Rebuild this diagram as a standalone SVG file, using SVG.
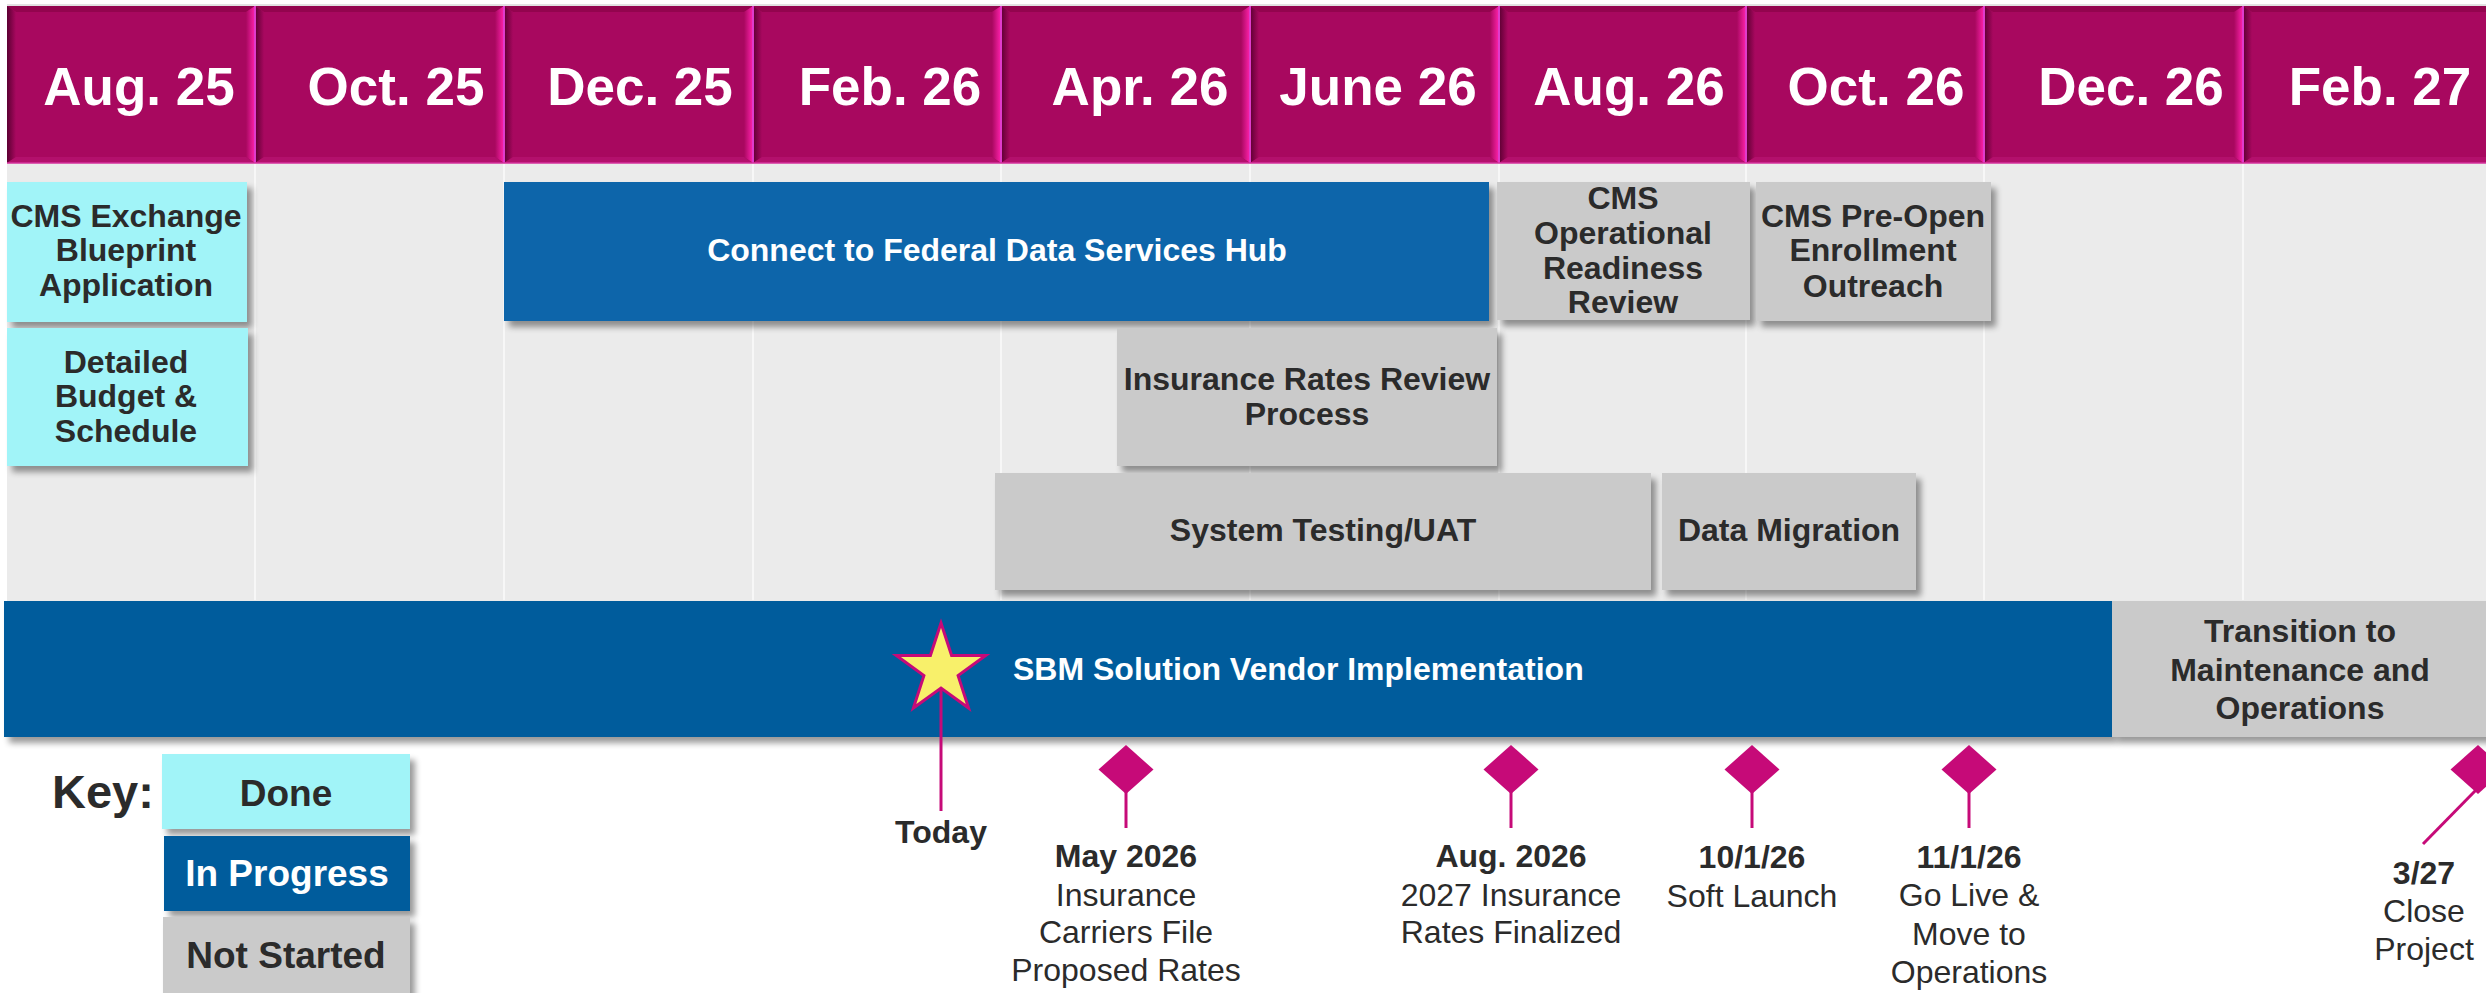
<svg xmlns="http://www.w3.org/2000/svg" width="2486" height="993" viewBox="0 0 2486 993">
  <defs>
    <style>
      .hdr { fill: #A8085F; }
      .bev-top { fill: #93044E; }
      .bev-bot { fill: #B3106C; }
      .bev-l { fill: url(#bevL); }
      .bev-r { fill: url(#bevR); }
      .hdr-txt { font-family: "Liberation Sans", Arial, sans-serif; font-weight: bold; font-size: 53px; fill: #FFFFFF; text-anchor: middle; }
      .sep { stroke: #E03BCB; stroke-width: 2; }
      .grid { stroke: #F7F7F7; stroke-width: 2; }
      .done { fill: #A1F4F8; }
      .prog { fill: #0B65AA; }
      .prog2 { fill: #065B9C; }
      .todo { fill: #CACACA; }
      .t { font-family: "Liberation Sans", Arial, sans-serif; font-weight: bold; font-size: 32px; fill: #2B2B2B; text-anchor: middle; }
      .tw { font-family: "Liberation Sans", Arial, sans-serif; font-weight: bold; font-size: 32px; fill: #FFFFFF; text-anchor: middle; }
      .key { font-family: "Liberation Sans", Arial, sans-serif; font-weight: bold; font-size: 37px; text-anchor: middle; }
      .ms { font-family: "Liberation Sans", Arial, sans-serif; font-size: 32px; fill: #2B2B2B; text-anchor: middle; }
      .msb { font-weight: bold; }
      .mk { fill: #C60A78; }
      .mk-line { stroke: #C60A78; stroke-width: 3; fill: none; }
    </style>
    <linearGradient id="bevL" x1="0" y1="0" x2="1" y2="0">
      <stop offset="0" stop-color="#5C0032"/>
      <stop offset="1" stop-color="#A8085F"/>
    </linearGradient>
    <linearGradient id="bevR" x1="0" y1="0" x2="1" y2="0">
      <stop offset="0" stop-color="#A8085F"/>
      <stop offset="1" stop-color="#FF22AC"/>
    </linearGradient>
    <filter id="shadow" x="-5%" y="-10%" width="115%" height="135%">
      <feGaussianBlur in="SourceAlpha" stdDeviation="3"/>
      <feOffset dx="5" dy="6"/>
      <feComponentTransfer><feFuncA type="linear" slope="0.4"/></feComponentTransfer>
      <feMerge><feMergeNode/><feMergeNode in="SourceGraphic"/></feMerge>
    </filter>
  </defs>

  <rect x="0" y="0" width="2486" height="993" fill="#FFFFFF"/>

  <!-- timeline panel -->
  <g id="panel">
    <rect x="7" y="163" width="2479" height="438" fill="#EBEBEB"/>
    <line class="grid" x1="255" y1="164" x2="255" y2="600"/>
    <line class="grid" x1="504" y1="164" x2="504" y2="600"/>
    <line class="grid" x1="753" y1="164" x2="753" y2="600"/>
    <line class="grid" x1="1001" y1="164" x2="1001" y2="600"/>
    <line class="grid" x1="1250" y1="164" x2="1250" y2="600"/>
    <line class="grid" x1="1499" y1="164" x2="1499" y2="600"/>
    <line class="grid" x1="1746" y1="164" x2="1746" y2="600"/>
    <line class="grid" x1="1984" y1="164" x2="1984" y2="600"/>
    <line class="grid" x1="2243" y1="164" x2="2243" y2="600"/>
  </g>

  <!-- month header -->
  <g id="header">
    <line x1="7" y1="5" x2="2486" y2="5" stroke="#C4C4C4" stroke-width="1"/>
    <g id="hdr-aug25">
      <rect class="hdr" x="7" y="6" width="248" height="157"/>
      <polygon class="bev-top" points="7,6 255,6 246,12 16,12"/>
      <polygon class="bev-l" points="7,6 16,12 16,157 7,163"/>
      <polygon class="bev-r" points="255,6 255,163 246,157 246,12"/>
      <polygon class="bev-bot" points="7,163 16,157 246,157 255,163"/>
      <text class="hdr-txt" x="139" y="105">Aug. 25</text>
    </g>
    <g id="hdr-oct25">
      <rect class="hdr" x="255" y="6" width="249" height="157"/>
      <polygon class="bev-top" points="255,6 504,6 495,12 264,12"/>
      <polygon class="bev-l" points="255,6 264,12 264,157 255,163"/>
      <polygon class="bev-r" points="504,6 504,163 495,157 495,12"/>
      <polygon class="bev-bot" points="255,163 264,157 495,157 504,163"/>
      <text class="hdr-txt" x="396" y="105">Oct. 25</text>
    </g>
    <g id="hdr-dec25">
      <rect class="hdr" x="504" y="6" width="249" height="157"/>
      <polygon class="bev-top" points="504,6 753,6 744,12 513,12"/>
      <polygon class="bev-l" points="504,6 513,12 513,157 504,163"/>
      <polygon class="bev-r" points="753,6 753,163 744,157 744,12"/>
      <polygon class="bev-bot" points="504,163 513,157 744,157 753,163"/>
      <text class="hdr-txt" x="640" y="105">Dec. 25</text>
    </g>
    <g id="hdr-feb26">
      <rect class="hdr" x="753" y="6" width="248" height="157"/>
      <polygon class="bev-top" points="753,6 1001,6 992,12 762,12"/>
      <polygon class="bev-l" points="753,6 762,12 762,157 753,163"/>
      <polygon class="bev-r" points="1001,6 1001,163 992,157 992,12"/>
      <polygon class="bev-bot" points="753,163 762,157 992,157 1001,163"/>
      <text class="hdr-txt" x="890" y="105">Feb. 26</text>
    </g>
    <g id="hdr-apr26">
      <rect class="hdr" x="1001" y="6" width="249" height="157"/>
      <polygon class="bev-top" points="1001,6 1250,6 1241,12 1010,12"/>
      <polygon class="bev-l" points="1001,6 1010,12 1010,157 1001,163"/>
      <polygon class="bev-r" points="1250,6 1250,163 1241,157 1241,12"/>
      <polygon class="bev-bot" points="1001,163 1010,157 1241,157 1250,163"/>
      <text class="hdr-txt" x="1140" y="105">Apr. 26</text>
    </g>
    <g id="hdr-jun26">
      <rect class="hdr" x="1250" y="6" width="249" height="157"/>
      <polygon class="bev-top" points="1250,6 1499,6 1490,12 1259,12"/>
      <polygon class="bev-l" points="1250,6 1259,12 1259,157 1250,163"/>
      <polygon class="bev-r" points="1499,6 1499,163 1490,157 1490,12"/>
      <polygon class="bev-bot" points="1250,163 1259,157 1490,157 1499,163"/>
      <text class="hdr-txt" x="1378" y="105">June 26</text>
    </g>
    <g id="hdr-aug26">
      <rect class="hdr" x="1499" y="6" width="247" height="157"/>
      <polygon class="bev-top" points="1499,6 1746,6 1737,12 1508,12"/>
      <polygon class="bev-l" points="1499,6 1508,12 1508,157 1499,163"/>
      <polygon class="bev-r" points="1746,6 1746,163 1737,157 1737,12"/>
      <polygon class="bev-bot" points="1499,163 1508,157 1737,157 1746,163"/>
      <text class="hdr-txt" x="1629" y="105">Aug. 26</text>
    </g>
    <g id="hdr-oct26">
      <rect class="hdr" x="1746" y="6" width="238" height="157"/>
      <polygon class="bev-top" points="1746,6 1984,6 1975,12 1755,12"/>
      <polygon class="bev-l" points="1746,6 1755,12 1755,157 1746,163"/>
      <polygon class="bev-r" points="1984,6 1984,163 1975,157 1975,12"/>
      <polygon class="bev-bot" points="1746,163 1755,157 1975,157 1984,163"/>
      <text class="hdr-txt" x="1876" y="105">Oct. 26</text>
    </g>
    <g id="hdr-dec26">
      <rect class="hdr" x="1984" y="6" width="259" height="157"/>
      <polygon class="bev-top" points="1984,6 2243,6 2234,12 1993,12"/>
      <polygon class="bev-l" points="1984,6 1993,12 1993,157 1984,163"/>
      <polygon class="bev-r" points="2243,6 2243,163 2234,157 2234,12"/>
      <polygon class="bev-bot" points="1984,163 1993,157 2234,157 2243,163"/>
      <text class="hdr-txt" x="2131" y="105">Dec. 26</text>
    </g>
    <g id="hdr-feb27">
      <rect class="hdr" x="2243" y="6" width="260" height="157"/>
      <polygon class="bev-top" points="2243,6 2503,6 2494,12 2252,12"/>
      <polygon class="bev-l" points="2243,6 2252,12 2252,157 2243,163"/>
      <polygon class="bev-bot" points="2243,163 2252,157 2494,157 2503,163"/>
      <text class="hdr-txt" x="2380" y="105">Feb. 27</text>
    </g>
    <line class="sep" x1="255" y1="6" x2="255" y2="163"/>
    <line class="sep" x1="504" y1="6" x2="504" y2="163"/>
    <line class="sep" x1="753" y1="6" x2="753" y2="163"/>
    <line class="sep" x1="1001" y1="6" x2="1001" y2="163"/>
    <line class="sep" x1="1250" y1="6" x2="1250" y2="163"/>
    <line class="sep" x1="1499" y1="6" x2="1499" y2="163"/>
    <line class="sep" x1="1746" y1="6" x2="1746" y2="163"/>
    <line class="sep" x1="1984" y1="6" x2="1984" y2="163"/>
    <line class="sep" x1="2243" y1="6" x2="2243" y2="163"/>
    <line x1="7" y1="163" x2="2486" y2="163" stroke="#D4309C" stroke-width="1.5"/>
  </g>

  <!-- task bars -->
  <g id="task-blueprint">
    <rect class="done" x="7" y="182" width="240" height="140" filter="url(#shadow)"/>
    <text class="t" x="126" y="227">CMS Exchange</text>
    <text class="t" x="126" y="261">Blueprint</text>
    <text class="t" x="126" y="296">Application</text>
  </g>
  <g id="task-budget">
    <rect class="done" x="7" y="328" width="241" height="138" filter="url(#shadow)"/>
    <text class="t" x="126" y="373">Detailed</text>
    <text class="t" x="126" y="407">Budget &amp;</text>
    <text class="t" x="126" y="442">Schedule</text>
  </g>
  <g id="task-hub">
    <rect class="prog" x="504" y="182" width="985" height="139" filter="url(#shadow)"/>
    <text class="tw" x="997" y="261">Connect to Federal Data Services Hub</text>
  </g>
  <g id="task-readiness">
    <rect class="todo" x="1497" y="182" width="253" height="138" filter="url(#shadow)"/>
    <text class="t" x="1623" y="209">CMS</text>
    <text class="t" x="1623" y="244">Operational</text>
    <text class="t" x="1623" y="279">Readiness</text>
    <text class="t" x="1623" y="313">Review</text>
  </g>
  <g id="task-outreach">
    <rect class="todo" x="1756" y="182" width="235" height="139" filter="url(#shadow)"/>
    <text class="t" x="1873" y="227">CMS Pre-Open</text>
    <text class="t" x="1873" y="261">Enrollment</text>
    <text class="t" x="1873" y="297">Outreach</text>
  </g>
  <g id="task-rates">
    <rect class="todo" x="1117" y="328" width="380" height="138" filter="url(#shadow)"/>
    <text class="t" x="1307" y="390">Insurance Rates Review</text>
    <text class="t" x="1307" y="425">Process</text>
  </g>
  <g id="task-testing">
    <rect class="todo" x="995" y="473" width="656" height="117" filter="url(#shadow)"/>
    <text class="t" x="1323" y="541">System Testing/UAT</text>
  </g>
  <g id="task-migration">
    <rect class="todo" x="1662" y="473" width="254" height="117" filter="url(#shadow)"/>
    <text class="t" x="1789" y="541">Data Migration</text>
  </g>
  <g id="task-sbm">
    <rect class="prog2" x="4" y="601" width="2108" height="136" filter="url(#shadow)"/>
    <text class="tw" x="1013" y="680" text-anchor="start" style="text-anchor:start">SBM Solution Vendor Implementation</text>
  </g>
  <g id="task-transition">
    <rect class="todo" x="2112" y="601" width="380" height="136" filter="url(#shadow)"/>
    <text class="t" x="2300" y="642">Transition to</text>
    <text class="t" x="2300" y="681">Maintenance and</text>
    <text class="t" x="2300" y="719">Operations</text>
  </g>

  <!-- connectors: milestone stems -->
  <g id="connectors">
    <line class="mk-line" x1="941" y1="688" x2="941" y2="811"/>
    <line class="mk-line" x1="1126" y1="790" x2="1126" y2="828"/>
    <line class="mk-line" x1="1511" y1="790" x2="1511" y2="828"/>
    <line class="mk-line" x1="1752" y1="790" x2="1752" y2="828"/>
    <line class="mk-line" x1="1969" y1="790" x2="1969" y2="828"/>
    <line class="mk-line" x1="2476" y1="790" x2="2423" y2="844"/>
  </g>

  <!-- today marker -->
  <g id="today">
    <polygon points="941,623 951.6,655.4 985.7,655.5 958.1,675.6 968.6,708 941,688 913.4,708 923.9,675.6 896.3,655.5 930.4,655.4" fill="#F8F06A" stroke="#C60A78" stroke-width="3" stroke-linejoin="miter"/>
    <text class="ms msb" x="941" y="843" font-size="31">Today</text>
  </g>

  <!-- milestones -->
  <g id="ms-may2026">
    <polygon class="mk" points="1126,745 1153.5,769.5 1126,794 1098.5,769.5"/>
    <text class="ms msb" x="1126" y="867">May 2026</text>
    <text class="ms" x="1126" y="906">Insurance</text>
    <text class="ms" x="1126" y="943">Carriers File</text>
    <text class="ms" x="1126" y="981">Proposed Rates</text>
  </g>
  <g id="ms-aug2026">
    <polygon class="mk" points="1511,745 1538.5,769.5 1511,794 1483.5,769.5"/>
    <text class="ms msb" x="1511" y="867">Aug. 2026</text>
    <text class="ms" x="1511" y="906">2027 Insurance</text>
    <text class="ms" x="1511" y="943">Rates Finalized</text>
  </g>
  <g id="ms-softlaunch">
    <polygon class="mk" points="1752,745 1779.5,769.5 1752,794 1724.5,769.5"/>
    <text class="ms msb" x="1752" y="868">10/1/26</text>
    <text class="ms" x="1752" y="907">Soft Launch</text>
  </g>
  <g id="ms-golive">
    <polygon class="mk" points="1969,745 1996.5,769.5 1969,794 1941.5,769.5"/>
    <text class="ms msb" x="1969" y="868">11/1/26</text>
    <text class="ms" x="1969" y="906">Go Live &amp;</text>
    <text class="ms" x="1969" y="945">Move to</text>
    <text class="ms" x="1969" y="983">Operations</text>
  </g>
  <g id="ms-close">
    <polygon class="mk" points="2478,745 2505.5,769.5 2478,794 2450.5,769.5"/>
    <text class="ms msb" x="2424" y="884">3/27</text>
    <text class="ms" x="2424" y="922">Close</text>
    <text class="ms" x="2424" y="960">Project</text>
  </g>

  <!-- legend -->
  <g id="legend">
    <text x="52" y="808" font-family="Liberation Sans, Arial, sans-serif" font-weight="bold" font-size="47" fill="#2B2B2B">Key:</text>
    <g id="key-done">
      <rect class="done" x="162" y="754" width="248" height="75" filter="url(#shadow)"/>
      <text class="key" x="286" y="806" fill="#2B2B2B">Done</text>
    </g>
    <g id="key-progress">
      <rect class="prog2" x="164" y="836" width="246" height="75" filter="url(#shadow)"/>
      <text class="key" x="287" y="886" fill="#FFFFFF">In Progress</text>
    </g>
    <g id="key-notstarted">
      <rect class="todo" x="163" y="917" width="247" height="90" filter="url(#shadow)"/>
      <text class="key" x="286" y="968" fill="#2B2B2B">Not Started</text>
    </g>
  </g>
</svg>
